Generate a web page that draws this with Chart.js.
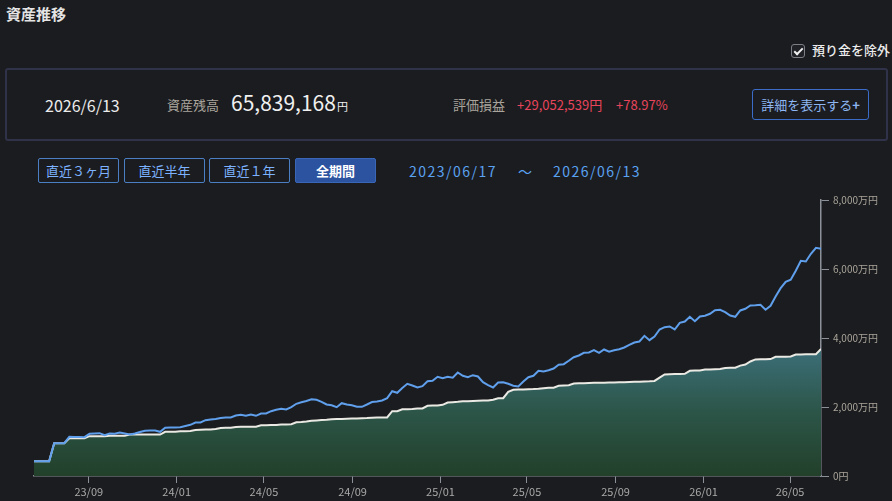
<!DOCTYPE html>
<html lang="ja">
<head>
<meta charset="utf-8">
<script src="https://cdn.jsdelivr.net/npm/chart.js@4/dist/chart.umd.min.js"></script>
<style>
  html, body { margin: 0; padding: 0; }
  body {
    width: 892px; height: 501px; overflow: hidden; position: relative;
    background: #1b1c1f; color: #e6e6e6;
    font-family: "Noto Sans CJK JP", "Noto Sans", sans-serif;
  }
  .abs { position: absolute; white-space: nowrap; }
  .title { left: 6px; top: 3px; font-size: 15px; font-weight: 700; color: #e4e4e4; }
  .chk { left: 791px; top: 44px; width: 12px; height: 12px; border: 1px solid #7d7f86; border-radius: 3px; background: #202126; }
  .chk::after { content: ""; position: absolute; left: 4px; top: 1px; width: 3px; height: 7px; border: solid #f0f0f0; border-width: 0 2px 2px 0; transform: rotate(45deg); }
  .chklabel { left: 812px; top: 40px; font-size: 13px; font-weight: 500; color: #ececec; }
  .summary { left: 5px; top: 68px; width: 879px; height: 69px; border: 2px solid #30324a; border-radius: 3px; }
  .date { left: 45px; top: 93px; font-size: 16px; color: #ececec; }
  .lbl { font-size: 13px; color: #a9a49c; top: 95px; }
  .big { left: 231px; top: 87px; font-size: 21px; color: #f0f0f0; }
  .big small { font-size: 11px; margin-left: 1px; }
  .red { font-size: 13px; color: #e8445c; top: 95px; }
  .detail { left: 752px; top: 89px; width: 115px; height: 29px; border: 1px solid #3a6cc8; border-radius: 3px; color: #8db6f2; font-size: 13px; text-align: center; line-height: 29px; }
  .btn { top: 158px; width: 79px; height: 23px; border: 1px solid #4b7fc4; border-radius: 2px; color: #7cb2ff; font-size: 13px; text-align: center; line-height: 23px; }
  .btn.on { background: #2c53a0; border-color: #3a66b8; color: #ffffff; font-weight: 700; }
  .range { top: 161px; font-size: 14px; color: #5aa2f2; letter-spacing: 1.5px; }
  #wrap { position: absolute; left: 0; top: 190px; width: 892px; height: 311px; }
</style>
</head>
<body>
  <div class="abs title">資産推移</div>
  <div class="abs chk"></div>
  <div class="abs chklabel">預り金を除外</div>

  <div class="abs summary"></div>
  <div class="abs date">2026/6/13</div>
  <div class="abs lbl" style="left:167px">資産残高</div>
  <div class="abs big">65,839,168<small>円</small></div>
  <div class="abs lbl" style="left:453px">評価損益</div>
  <div class="abs red" style="left:517px">+29,052,539円</div>
  <div class="abs red" style="left:616px">+78.97%</div>
  <div class="abs detail">詳細を表示する<b>+</b></div>

  <div class="abs btn" style="left:38px">直近３ヶ月</div>
  <div class="abs btn" style="left:124px">直近半年</div>
  <div class="abs btn" style="left:209px">直近１年</div>
  <div class="abs btn on" style="left:295px">全期間</div>
  <div class="abs range" style="left:409px">2023/06/17</div>
  <div class="abs range" style="left:518px">～</div>
  <div class="abs range" style="left:553px">2026/06/13</div>

  <div id="wrap"><canvas id="assetChart" width="892" height="311"></canvas></div>

<script>
// weekly snapshots (万円), first = 2023/06/17, last = 2026/06/13
const startDate = "2023-06-17";

const valuation = [
  429, 429, 429, 429, 951, 951, 951, 1136, 1131, 1128, 1125,
  1223, 1232, 1241, 1183, 1232, 1223, 1261, 1232, 1203, 1232,
  1276, 1313, 1319, 1319, 1281, 1397, 1406, 1406, 1415, 1450,
  1484, 1551, 1551, 1618, 1638, 1652, 1681, 1696, 1696, 1754,
  1774, 1745, 1783, 1745, 1812, 1812, 1879, 1919, 1948, 1928,
  1995, 2093, 2137, 2174, 2226, 2209, 2151, 2073, 2052, 1995,
  2110, 2073, 2052, 2006, 2006, 2073, 2145, 2160, 2189, 2255,
  2458, 2412, 2551, 2673, 2624, 2566, 2603, 2748, 2760, 2876,
  2835, 2876, 2847, 3000, 2905, 2864, 2922, 2885, 2719, 2632,
  2566, 2711, 2719, 2673, 2615, 2595, 2740, 2864, 2905, 3050,
  3029, 3067, 3116, 3224, 3241, 3340, 3444, 3493, 3572, 3580,
  3647, 3572, 3667, 3601, 3647, 3676, 3725, 3798, 3870, 3899,
  4064, 3937, 4044, 4247, 4314, 4334, 4247, 4441, 4479, 4615,
  4488, 4624, 4644, 4702, 4807, 4818, 4749, 4653, 4615, 4798,
  4847, 4943, 4951, 4963, 4818, 4934, 5204, 5444, 5630, 5688,
  5949, 6239, 6218, 6442, 6616, 6584
];

const principal = [
  429, 429, 429, 429, 951, 951, 951, 1096, 1096, 1096, 1096,
  1154, 1154, 1154, 1154, 1170, 1170, 1170, 1170,
  1200, 1200, 1200, 1200, 1200, 1200, 1200,
  1280, 1280, 1285, 1300, 1300, 1305, 1335, 1340, 1345, 1350, 1360,
  1390, 1395, 1397, 1420, 1426, 1426, 1430, 1430,
  1470, 1472, 1475, 1480, 1490, 1495, 1501, 1559, 1565, 1580,
  1600, 1610, 1620, 1630,
  1646, 1650, 1655, 1660, 1665, 1670, 1675, 1680, 1690,
  1696, 1696, 1696, 1878, 1878, 1936, 1936, 1940, 1957, 1957,
  2035, 2040, 2045, 2064, 2131, 2140, 2150, 2168,
  2170, 2175, 2180, 2185, 2189, 2209, 2255, 2255, 2440,
  2499, 2505, 2510, 2516, 2520, 2530, 2545, 2557, 2560,
  2615, 2625, 2632, 2682, 2685, 2690, 2695, 2700,
  2702, 2705, 2710, 2712, 2715, 2720, 2725, 2730, 2735,
  2740, 2745, 2755, 2850, 2945, 2951, 2955, 2955, 2960,
  3049, 3055, 3060, 3087, 3090, 3095, 3100, 3130, 3136, 3140,
  3200, 3232, 3320, 3380, 3386, 3386, 3390, 3455, 3460, 3460, 3465,
  3520, 3525, 3528, 3530, 3530, 3679
];

const tickDates = ["2023-09-01", "2024-01-01", "2024-05-01", "2024-09-01", "2025-01-01",
                   "2025-05-01", "2025-09-01", "2026-01-01", "2026-05-01"];
const tickLabels = ["23/09", "24/01", "24/05", "24/09", "25/01", "25/05", "25/09", "26/01", "26/05"];
const yTicks = [0, 2000, 4000, 6000, 8000];
const yTickLabels = ["0円", "2,000万円", "4,000万円", "6,000万円", "8,000万円"];

function daysFromStart(d) {
  return Math.round((Date.parse(d + "T00:00:00Z") - Date.parse(startDate + "T00:00:00Z")) / 86400000);
}

document.addEventListener("DOMContentLoaded", function () {
  const ctx = document.getElementById("assetChart");
  const tickDays = tickDates.map(daysFromStart);
  const endDay = 7 * (valuation.length - 1);
  const axisColor = "#8b9099";

  new Chart(ctx, {
    type: "line",
    data: {
      datasets: [
        {
          data: valuation.map((v, i) => ({ x: i * 7, y: v })),
          borderColor: "#5f9fec",
          borderWidth: 2,
          pointRadius: 0,
          tension: 0,
          fill: false,
        },
        {
          data: principal.map((v, i) => ({ x: i * 7, y: v })),
          borderColor: "#ebe9e3",
          borderWidth: 2,
          pointRadius: 0,
          tension: 0,
          fill: "origin",
          backgroundColor: function (context) {
            const chart = context.chart;
            const area = chart.chartArea;
            if (!area) return "#2c5647";
            const g = chart.ctx.createLinearGradient(0, area.bottom, 0, chart.scales.y.getPixelForValue(3700));
            g.addColorStop(0, "#22402a");
            g.addColorStop(0.5, "#2c5548");
            g.addColorStop(1, "#3c6f79");
            return g;
          },
        },
      ],
    },
    options: {
      responsive: false,
      animation: false,
      layout: { padding: { left: 34, top: 10, right: 0, bottom: 0 } },
      plugins: {
        legend: { display: false },
        tooltip: { enabled: false },
      },
      scales: {
        x: {
          type: "linear",
          min: 0,
          max: endDay,
          afterBuildTicks: function (scale) {
            scale.ticks = tickDays.map((d) => ({ value: d }));
          },
          afterFit: function (scale) {
            scale.height = 25;
          },
          grid: { drawOnChartArea: false, drawTicks: true, tickLength: 7, color: axisColor },
          border: { display: true, color: axisColor, width: 1.5 },
          ticks: {
            autoSkip: false,
            maxRotation: 0,
            padding: 2,
            color: "#a9a9a9",
            font: { family: "Noto Sans CJK JP", size: 11 },
            callback: function (value) {
              const k = tickDays.indexOf(value);
              return k >= 0 ? tickLabels[k] : "";
            },
          },
        },
        y: {
          position: "right",
          min: 0,
          max: 8000,
          afterBuildTicks: function (scale) {
            scale.ticks = yTicks.map((v) => ({ value: v }));
          },
          afterFit: function (scale) {
            scale.width = 71;
          },
          grid: { drawOnChartArea: false, drawTicks: true, tickLength: 8, color: axisColor },
          border: { display: true, color: axisColor, width: 1.5 },
          ticks: {
            padding: 4,
            color: "#aaa49a",
            font: { family: "Noto Sans CJK JP", size: 10 },
            callback: function (value) {
              const k = yTicks.indexOf(value);
              return k >= 0 ? yTickLabels[k] : "";
            },
          },
        },
      },
    },
  });
});
</script>
</body>
</html>
